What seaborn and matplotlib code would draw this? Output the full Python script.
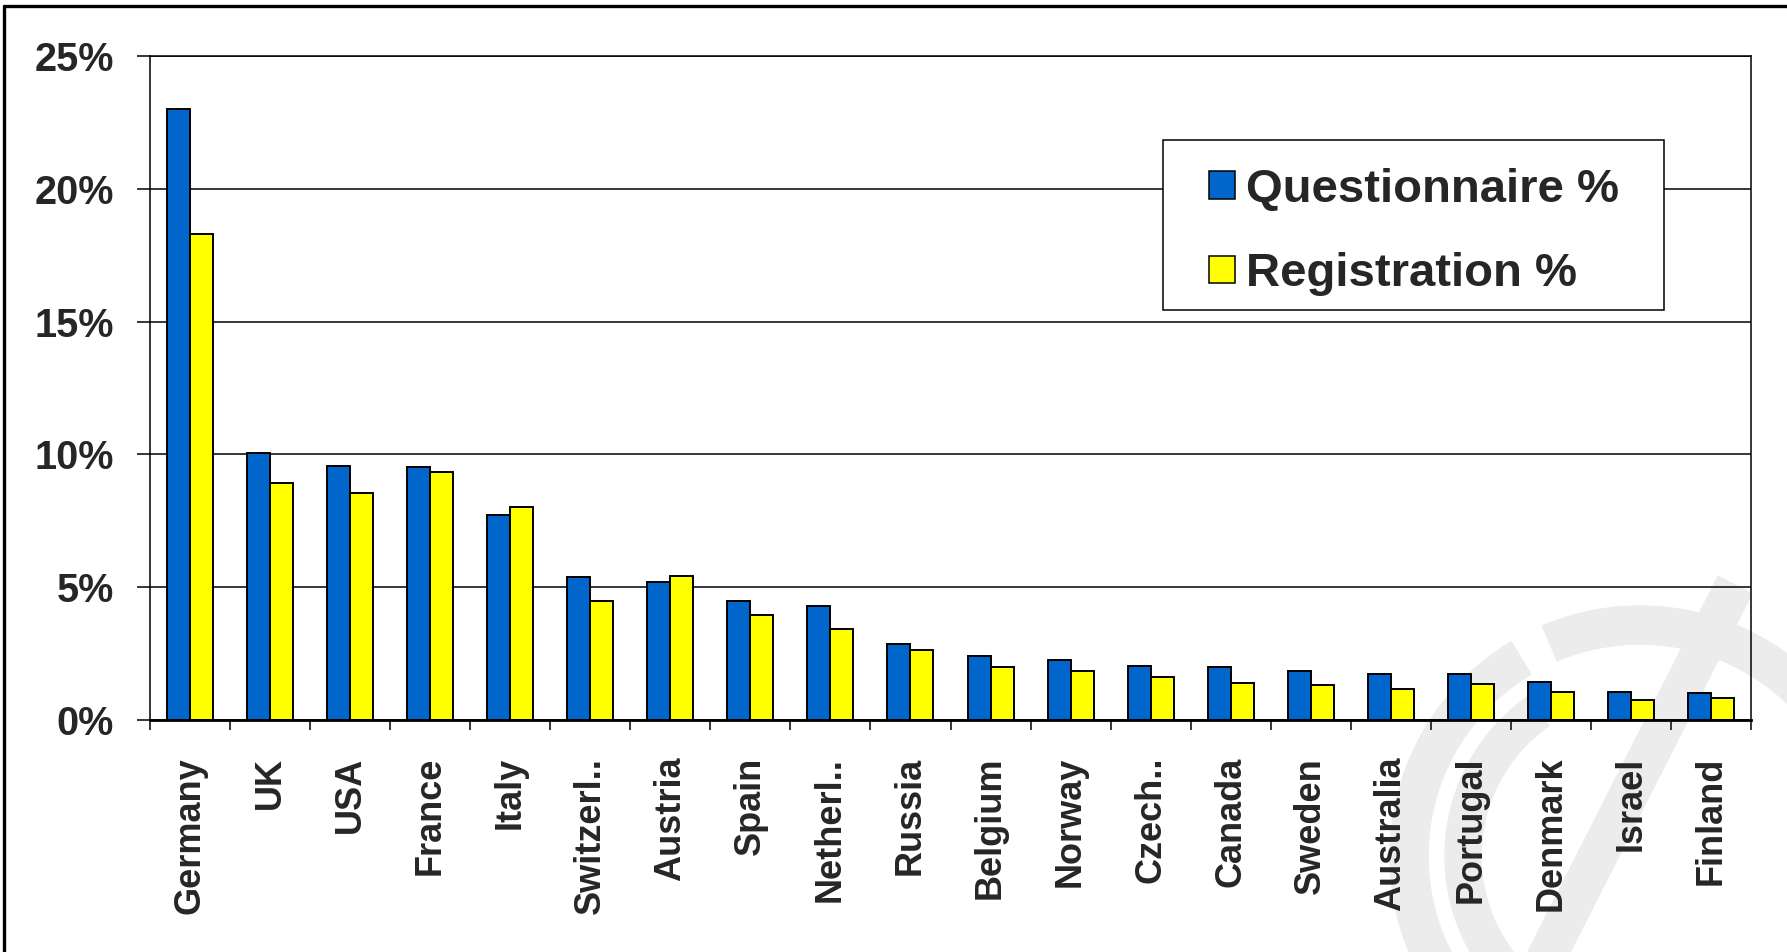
import matplotlib
matplotlib.use("Agg")
import matplotlib.pyplot as plt
from matplotlib.patches import Wedge, Rectangle, Polygon, Patch
from matplotlib.lines import Line2D
from matplotlib.ticker import FixedLocator, FuncFormatter
import numpy as np
import pandas as pd
import seaborn as sns

# ---------------- data ----------------
countries = ["Germany", "UK", "USA", "France", "Italy", "Switzerl..", "Austria",
             "Spain", "Netherl..", "Russia", "Belgium", "Norway", "Czech..",
             "Canada", "Sweden", "Australia", "Portugal", "Denmark", "Israel",
             "Finland"]
questionnaire = [23.0, 10.05, 9.57, 9.52, 7.72, 5.38, 5.2, 4.49, 4.3, 2.86,
                 2.4, 2.27, 2.04, 1.98, 1.85, 1.74, 1.74, 1.43, 1.07, 1.01]
registration = [18.3, 8.92, 8.54, 9.34, 8.02, 4.49, 5.43, 3.95, 3.41, 2.64,
                1.98, 1.85, 1.61, 1.38, 1.33, 1.15, 1.34, 1.07, 0.77, 0.84]
series_names = ["Questionnaire %", "Registration %"]
series_colors = ["#0066CC", "#FFFF00"]
y_ticks = [0, 5, 10, 15, 20, 25]

df = pd.DataFrame({
    "country": countries * 2,
    "series": [series_names[0]] * len(countries) + [series_names[1]] * len(countries),
    "value": questionnaire + registration,
})

# ---------------- style ----------------
sns.set_theme(style="white")
plt.rcParams["font.family"] = ["Liberation Sans", "DejaVu Sans"]
plt.rcParams["font.weight"] = "bold"

W, H, DPI = 1787, 952, 100
fig = plt.figure(figsize=(W / DPI, H / DPI), dpi=DPI, facecolor="white")

# ---- watermark (decorative, figure pixel coords) ----
wm = "#ececec"
def px(x, y):
    return (x / DPI, (H - y) / DPI)
tr = fig.dpi_scale_trans
cx, cy = px(1640, 856)
for t1, t2 in [(-30, 113), (121, 330)]:
    fig.patches.append(Wedge((cx, cy), 2.50, t1, t2, width=0.38, color=wm,
                             transform=tr, zorder=-2))
fig.patches.append(Wedge((cx, cy), 1.95, 125, 250, width=0.36, color=wm,
                         transform=tr, zorder=-2))
p1 = np.array(px(1735, 585)); p2 = np.array(px(1545, 960))
d = p2 - p1; n = np.array([-d[1], d[0]]); n = n / np.linalg.norm(n) * 0.19
fig.patches.append(Polygon([p1 + n, p2 + n, p2 - n, p1 - n], closed=True,
                           color=wm, transform=tr, zorder=-2))

# ---- axes ----
L, R, T, B = 150, 1751, 56, 720
ax = fig.add_axes([L / W, 1 - B / H, (R - L) / W, (B - T) / H])
ax.set_facecolor("none")

sns.barplot(data=df, x="country", y="value", hue="series", hue_order=series_names,
            order=countries, palette=series_colors, width=0.575, gap=0,
            edgecolor="black", linewidth=1.4, saturation=1, ax=ax, legend=False)

ax.set_xlim(-0.5, len(countries) - 0.5)
ax.set_ylim(0, 25)
ax.set_xlabel("")
ax.set_ylabel("")

# y axis
ax.set_yticks(y_ticks)
ax.yaxis.set_major_formatter(FuncFormatter(lambda v, p: f"{int(v)}%"))
ax.tick_params(axis="y", which="major", direction="out", length=9.4, width=1.1,
               color="black", pad=16.5, labelsize=28.5, left=True)
for lab in ax.get_yticklabels():
    lab.set_fontweight("bold")

# x axis: labels at centers, tick marks at boundaries
ax.set_xticks(range(len(countries)))
ax.set_xticklabels(countries, rotation=90, fontsize=26, fontweight="bold")
ax.xaxis.set_minor_locator(FixedLocator(np.arange(-0.5, len(countries), 1.0)))
ax.tick_params(axis="x", which="major", length=0, pad=26.5, bottom=True)
ax.tick_params(axis="x", which="minor", direction="out", length=7.2, width=1.1,
               color="black", bottom=True)

# grid and spines
ax.set_axisbelow(True)
ax.yaxis.grid(True, color="black", linewidth=1.1)
ax.xaxis.grid(False)
for s in ["left", "right", "top"]:
    ax.spines[s].set_visible(True)
    ax.spines[s].set_color("black")
    ax.spines[s].set_linewidth(1.1)
ax.spines["bottom"].set_visible(True)
ax.spines["bottom"].set_color("black")
ax.spines["bottom"].set_linewidth(2.0)

# ---- legend with a custom white box ----
box = Rectangle((1163 / W, 1 - 310 / H), 501 / W, 170 / H, transform=fig.transFigure,
                facecolor="white", edgecolor="black", linewidth=1.1, zorder=4,
                clip_on=False)
ax.add_patch(box)
handles = [Patch(facecolor=c, edgecolor="black", linewidth=1.1) for c in series_colors]
leg = ax.legend(handles, series_names, loc="center",
                bbox_to_anchor=(1414 / W, 1 - 232 / H), bbox_transform=fig.transFigure,
                frameon=False, prop={"family": "Liberation Sans", "weight": "bold", "size": 34},
                handlelength=0.55, handleheight=0.53, handletextpad=0.25,
                labelspacing=0.86, borderpad=0.2)
leg.set_zorder(5)

# ---- outer frame lines (left and top) ----
fig.add_artist(Line2D([3.7 / W, 3.7 / W], [0, 1 - 6.3 / H], color="black", linewidth=2.4,
                      transform=fig.transFigure))
fig.add_artist(Line2D([3.7 / W, 1], [1 - 6.3 / H, 1 - 6.3 / H], color="black", linewidth=2.4,
                      transform=fig.transFigure))

fig.savefig("out.png", dpi=DPI, facecolor="white")
